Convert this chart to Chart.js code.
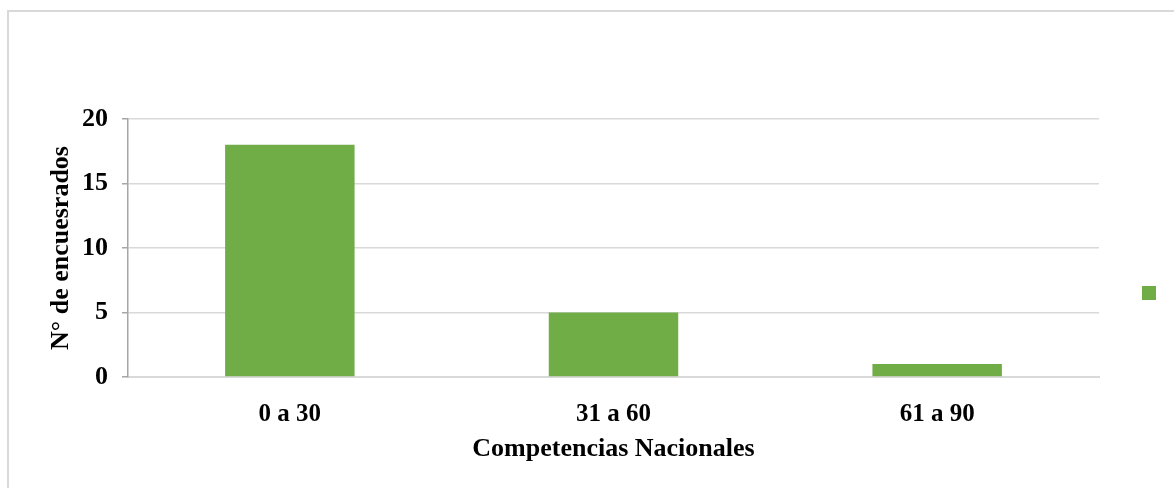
<!DOCTYPE html>
<html lang="es">
<head>
<meta charset="utf-8">
<title>Competencias Nacionales</title>
<script src="https://cdn.jsdelivr.net/npm/chart.js@4/dist/chart.umd.min.js"></script>
<style>
  html, body { margin: 0; padding: 0; background: #ffffff; }
  #wrap { position: relative; width: 1174px; height: 488px; overflow: hidden; }
  #frame {
    position: absolute; left: 7px; top: 10px; right: -10px; bottom: -10px;
    border-top: 2px solid #d9d9d9; border-left: 2px solid #d9d9d9;
  }
  #chart { position: absolute; left: 0; top: 0; }
</style>
</head>
<body>
<div id="wrap">
  <div id="frame"></div>
  <canvas id="chart" width="1174" height="488"></canvas>
</div>
<script>
// Encuestados por rango de competencias nacionales
const categories = ['0 a 30', '31 a 60', '61 a 90'];
const encuestados = [18, 5, 1];
const yTicks = [0, 5, 10, 15, 20];

const FONT = "'Liberation Serif', 'Times New Roman', serif";
const GREEN = '#70ad47';

// Leyenda: solo el cuadro de color de la serie, sin texto
const legendBox = {
  id: 'legendBox',
  afterDraw(chart) {
    const ctx = chart.ctx;
    const ds = chart.data.datasets[0];
    ctx.save();
    ctx.fillStyle = ds.backgroundColor;
    ctx.fillRect(1142, 286, 14, 14);
    ctx.restore();
  }
};

new Chart(document.getElementById('chart'), {
  type: 'bar',
  data: {
    labels: categories,
    datasets: [{
      label: '',
      data: encuestados,
      backgroundColor: GREEN,
      borderWidth: 0,
      barPercentage: 0.4,
      categoryPercentage: 1.0
    }]
  },
  options: {
    responsive: false,
    animation: false,
    layout: { padding: { left: 46, right: 75, top: 119, bottom: 20 } },
    plugins: {
      legend: { display: false },
      tooltip: { enabled: false }
    },
    scales: {
      x: {
        grid: { display: false, drawTicks: false },
        border: { color: '#d9d9d9', width: 2 },
        ticks: {
          color: '#000000',
          padding: 23,
          font: { family: FONT, size: 25, weight: 'bold' }
        },
        title: {
          display: true,
          text: 'Competencias Nacionales',
          color: '#000000',
          padding: { top: 0, bottom: 3 },
          font: { family: FONT, size: 26, weight: 'bold' }
        },
        afterFit(scale) { scale.height = 91; }
      },
      y: {
        min: 0,
        max: 20,
        afterBuildTicks(scale) { scale.ticks = yTicks.map(v => ({ value: v })); },
        grid: {
          color: '#d9d9d9',
          lineWidth: 1.5,
          tickLength: 6,
          tickColor: '#a6a6a6',
          drawTicks: true
        },
        border: { color: '#a6a6a6', width: 1.5 },
        ticks: {
          color: '#000000',
          padding: 14,
          font: { family: FONT, size: 26, weight: 'bold' }
        },
        title: {
          display: true,
          text: 'N° de encuesrados',
          color: '#000000',
          padding: { top: 0, bottom: 0 },
          font: { family: FONT, size: 26, weight: 'bold' }
        },
        afterFit(scale) { scale.width = 82; }
      }
    }
  },
  plugins: [legendBox]
});
</script>
</body>
</html>
